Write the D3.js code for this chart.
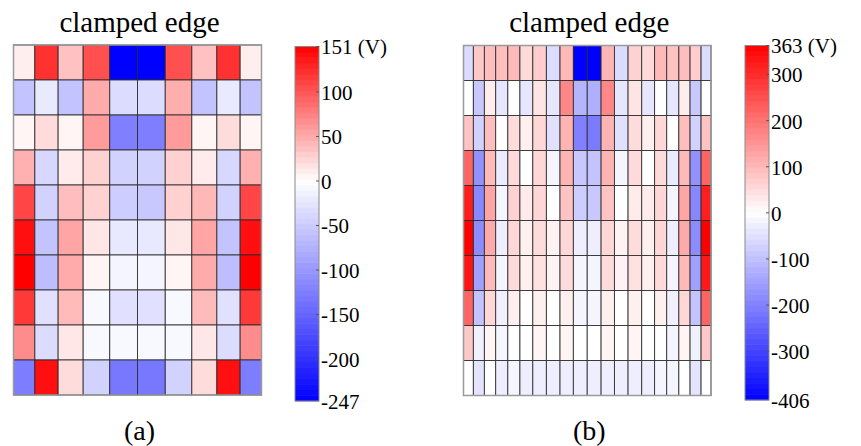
<!DOCTYPE html>
<html>
<head>
<meta charset="utf-8">
<script src="https://cdn.jsdelivr.net/npm/d3@7"></script>
<style>
  body { margin: 0; background: #fff; }
</style>
</head>
<body>
<div id="chart"></div>
<script>
// panel (a): 10 x 10 electrodes, voltages in V (row 0 = clamped edge)
const aValues = [
  [10, 122, 37, 104, -247, -247, 104, 37, 122, 10],
  [-58, -20, -58, 50, -34, -34, 48, -58, -20, -58],
  [6, 21, 6, 59, -123, -125, 59, 6, 21, 6],
  [47, -39, 12, 27, -44, -44, 27, 12, -39, 47],
  [110, -44, 39, 27, -48, -53, 27, 42, -44, 110],
  [142, -58, 53, 14, -22, -22, 14, 53, -58, 142],
  [151, -63, 50, 6, -10, -10, 6, 50, -63, 151],
  [118, -29, 41, -7, -29, -29, -7, 41, -29, 118],
  [68, -34, 14, -7, -7, -7, -7, 14, -34, 68],
  [-126, 142, 21, -44, -131, -131, -44, 21, 142, -126]
];
// normalized column edges along the plate width (non-uniform mesh)
const aColEdges = [0, 0.086, 0.18, 0.281, 0.388, 0.5, 0.612, 0.719, 0.82, 0.914, 1];
const aRange = [-247, 151];
const aTicks = [-247, -200, -150, -100, -50, 0, 50, 100, 151];

// panel (b): 10 x 20 electrodes
const bValues = [
  [-56, 78, 93, 93, 100, 53, 71, -56, 100, -406, -406, 105, -56, 64, 53, 100, 85, 93, 71, -56],
  [0, -88, 25, -40, 0, -40, 39, -40, 171, -120, -127, 171, -40, 39, -40, 0, -40, 25, -88, 0],
  [85, -72, 93, 0, 50, 21, 57, -48, 107, -200, -210, 107, -48, 50, 21, 57, 0, 93, -72, 85],
  [221, -175, 100, -32, 53, 0, 57, -16, 107, -88, -96, 107, -16, 53, 0, 53, -32, 100, -175, 221],
  [320, -191, 128, -16, 64, 28, 57, 0, 85, -80, -88, 85, 0, 28, 28, 57, -16, 128, -191, 320],
  [363, -183, 121, -27, 57, 21, 50, 18, 57, -27, -27, 57, 18, 50, 21, 57, -27, 121, -183, 363],
  [335, -151, 100, -16, 53, 21, 43, 18, 50, -16, -16, 50, 18, 43, 21, 53, -16, 100, -151, 328],
  [221, -96, 57, -24, 21, 0, 21, 0, 21, -16, -16, 21, 0, 21, 0, 21, -24, 57, -96, 221],
  [78, -24, 14, -16, 0, 0, 14, 0, 14, 0, 0, 14, 0, 14, 0, 0, -16, 14, -24, 78],
  [0, -43, 0, -27, -16, -27, -27, -27, -27, -27, -27, -27, -27, -27, -27, -16, -16, 0, -43, 0]
];
const bColEdges = [0, 0.040, 0.0845, 0.130, 0.179, 0.228, 0.280, 0.335, 0.390, 0.444, 0.5,
  0.556, 0.610, 0.665, 0.720, 0.772, 0.821, 0.870, 0.9155, 0.960, 1];
const bRange = [-406, 363];
const bTicks = [-406, -300, -200, -100, 0, 100, 200, 300, 363];

const panelTitle = 'clamped edge';
const unitLabel = '(V)';

const FONT = 'Liberation Serif';
const width = 861, height = 446;
const svg = d3.select('#chart').append('svg')
  .attr('width', width)
  .attr('height', height);

const panels = [
  { values: aValues, cols: aColEdges, range: aRange, ticks: aTicks, label: '(a)',
    plot: { x0: 13.5, x1: 261.5, y0: 45, y1: 395 }, bar: { x: 295, w: 24, y0: 46.5, y1: 401 } },
  { values: bValues, cols: bColEdges, range: bRange, ticks: bTicks, label: '(b)',
    plot: { x0: 463.5, x1: 711, y0: 45.5, y1: 395.5 }, bar: { x: 745, w: 24, y0: 45.5, y1: 400 } }
];

panels.forEach(p => {
  const nRows = p.values.length;
  const color = d3.scaleLinear()
    .domain([p.range[0], 0, p.range[1]])
    .range(['#0000ff', '#ffffff', '#ff0000'])
    .clamp(true);

  const xScale = d3.scaleLinear().domain([0, 1]).range([p.plot.x0, p.plot.x1]);
  const yScale = d3.scaleBand().domain(d3.range(nRows)).range([p.plot.y0, p.plot.y1]);

  const cells = [];
  p.values.forEach((row, r) => row.forEach((v, c) => cells.push({ r, c, v })));

  const g = svg.append('g');
  g.selectAll('rect.cell')
    .data(cells)
    .join('rect')
    .attr('class', 'cell')
    .attr('x', d => xScale(p.cols[d.c]))
    .attr('y', d => yScale(d.r))
    .attr('width', d => xScale(p.cols[d.c + 1]) - xScale(p.cols[d.c]))
    .attr('height', yScale.bandwidth())
    .attr('fill', d => color(d.v))
    .attr('stroke', '#2a2a2a')
    .attr('stroke-opacity', 0.85)
    .attr('stroke-width', 1);

  // outer border
  g.append('rect')
    .attr('x', p.plot.x0)
    .attr('y', p.plot.y0)
    .attr('width', p.plot.x1 - p.plot.x0)
    .attr('height', p.plot.y1 - p.plot.y0)
    .attr('fill', 'none')
    .attr('stroke', '#9a9a9a')
    .attr('stroke-width', 1.5);

  // title and panel label
  const cx = (p.plot.x0 + p.plot.x1) / 2 + 2;
  svg.append('text')
    .attr('x', cx)
    .attr('y', 32)
    .attr('text-anchor', 'middle')
    .attr('font-family', FONT)
    .attr('font-size', 29)
    .text(panelTitle);

  svg.append('text')
    .attr('x', cx)
    .attr('y', 440)
    .attr('text-anchor', 'middle')
    .attr('font-family', FONT)
    .attr('font-size', 28)
    .text(p.label);

  // colorbar
  const vScale = d3.scaleLinear().domain(p.range).range([p.bar.y1, p.bar.y0]);
  const steps = 64;
  const stepVals = d3.range(steps).map(i => p.range[0] + (i + 0.5) * (p.range[1] - p.range[0]) / steps);
  const stepH = (p.bar.y1 - p.bar.y0) / steps;
  svg.append('g').selectAll('rect')
    .data(stepVals)
    .join('rect')
    .attr('x', p.bar.x)
    .attr('y', d => vScale(d) - stepH / 2 - 0.3)
    .attr('width', p.bar.w)
    .attr('height', stepH + 0.6)
    .attr('fill', d => color(d));

  svg.append('rect')
    .attr('x', p.bar.x)
    .attr('y', p.bar.y0)
    .attr('width', p.bar.w)
    .attr('height', p.bar.y1 - p.bar.y0)
    .attr('fill', 'none')
    .attr('stroke', '#8a8a8a')
    .attr('stroke-width', 1);

  const axis = d3.axisRight(vScale)
    .tickValues(p.ticks)
    .tickSize(0)
    .tickPadding(0)
    .tickFormat(d => d === p.range[1] ? d + ' ' + unitLabel : String(d));

  const ax = svg.append('g')
    .attr('transform', `translate(${p.bar.x + p.bar.w + 2},0)`)
    .call(axis)
    .attr('font-family', FONT)
    .attr('font-size', 21);
  ax.select('.domain').remove();
  ax.selectAll('text')
    .attr('fill', '#000')
    .attr('dy', '0.35em');

  // small inner tick marks on the right edge of the bar
  svg.append('g').selectAll('line')
    .data(p.ticks.filter(t => t !== p.range[0]))
    .join('line')
    .attr('x1', p.bar.x + p.bar.w - 3)
    .attr('x2', p.bar.x + p.bar.w)
    .attr('y1', d => vScale(d))
    .attr('y2', d => vScale(d))
    .attr('stroke', '#555')
    .attr('stroke-width', 1);
});
</script>
</body>
</html>
